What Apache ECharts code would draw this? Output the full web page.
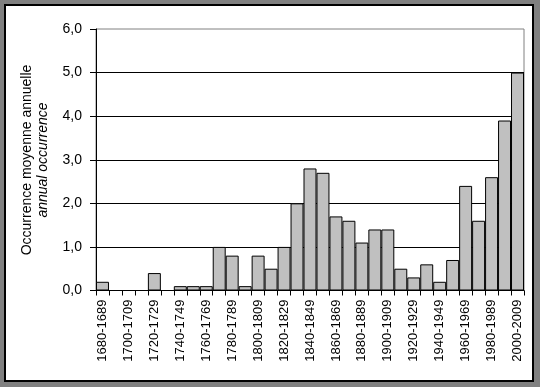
<!DOCTYPE html>
<html>
<head>
<meta charset="utf-8">
<script src="https://cdn.jsdelivr.net/npm/echarts@6/dist/echarts.min.js"></script>
<style>
html,body{margin:0;padding:0;background:#808080;}
#c{width:540px;height:387px;}
</style>
</head>
<body>
<div id="c"></div>
<script>
const categories = ["1680-1689","1690-1699","1700-1709","1710-1719","1720-1729","1730-1739","1740-1749","1750-1759","1760-1769","1770-1779","1780-1789","1790-1799","1800-1809","1810-1819","1820-1829","1830-1839","1840-1849","1850-1859","1860-1869","1870-1879","1880-1889","1890-1899","1900-1909","1910-1919","1920-1929","1930-1939","1940-1949","1950-1959","1960-1969","1970-1979","1980-1989","1990-1999","2000-2009"];
const values = [0.2,0,0,0,0.4,0,0.1,0.1,0.1,1.0,0.8,0.1,0.8,0.5,1.0,2.0,2.8,2.7,1.7,1.6,1.1,1.4,1.4,0.5,0.3,0.6,0.2,0.7,2.4,1.6,2.6,3.9,5.0];
const titleLine1 = "Occurrence moyenne annuelle";
const titleLine2 = "annual occurrence";

const chart = echarts.init(document.getElementById('c'), null, {renderer:'canvas'});
chart.setOption({
  animation: false,
  backgroundColor: '#808080',
  textStyle: {fontFamily: 'Liberation Sans, Arial, sans-serif'},
  graphic: [
    {type:'rect', z:-10, shape:{x:5,y:5,width:528,height:376}, style:{fill:'#fff', stroke:'#000', lineWidth:2}},
    {type:'text', x:27, y:160, rotation:Math.PI/2, style:{text:titleLine1, x:0, y:0, align:'center', verticalAlign:'middle', fill:'#000', font:'14px "Liberation Sans", Arial, sans-serif'}},
    {type:'text', x:43.5, y:160, rotation:Math.PI/2, style:{text:titleLine2, x:0, y:0, align:'center', verticalAlign:'middle', fill:'#000', font:'italic 14px "Liberation Sans", Arial, sans-serif'}}
  ],
  grid: {left:96, right:16, top:29, bottom:96.5, show:true, borderColor:'#808080', borderWidth:1, backgroundColor:'transparent'},
  xAxis: {
    type:'category', data:categories,
    axisLine:{lineStyle:{color:'#000', width:1}},
    axisTick:{show:true, length:5, alignWithLabel:false, interval:0, lineStyle:{color:'#000'}},
    axisLabel:{interval:1, rotate:90, margin:9, fontSize:13, color:'#000', fontFamily:'Liberation Sans'},
    splitLine:{show:false}
  },
  yAxis: {
    type:'value', min:0, max:6, interval:1,
    axisLine:{show:true, lineStyle:{color:'#000', width:1}},
    axisTick:{show:true, length:6, lineStyle:{color:'#000'}},
    axisLabel:{margin:14, fontSize:14, color:'#000', fontFamily:'Liberation Sans', formatter: v => v.toFixed(1).replace('.', ',')},
    splitLine:{show:true, showMaxLine:false, lineStyle:{color:'#000', width:1}}
  },
  series: [{
    type:'bar', data:values, barCategoryGap:'0%',
    itemStyle:{color:'#C0C0C0', borderColor:'#000', borderWidth:1}
  }]
});
</script>
</body>
</html>
